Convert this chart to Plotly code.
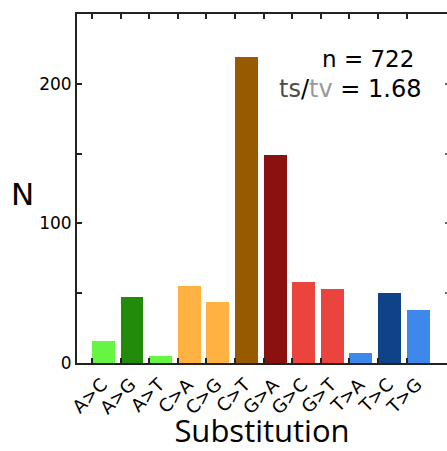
import plotly.graph_objects as go

categories = ["A>C", "A>G", "A>T", "C>A", "C>G", "C>T",
              "G>A", "G>C", "G>T", "T>A", "T>C", "T>G"]
counts = [16, 47, 5, 55, 44, 219, 149, 58, 53, 7, 50, 38]
colors = ["#66f542", "#228b0a", "#66f542", "#ffb142", "#ffb142", "#975a00",
          "#8b1010", "#eb433d", "#eb433d", "#3f88eb", "#0e438a", "#3f88eb"]
y_ticks = [0, 100, 200]
n_total = 722
ts_tv = 1.68

positions = list(range(len(categories)))

fig = go.Figure()
fig.add_trace(go.Bar(
    x=positions, y=counts, marker=dict(color=colors, line=dict(width=0)),
    width=0.8, offset=0, showlegend=False,
))
fig.add_trace(go.Scatter(x=[0], y=[0], xaxis="x2", yaxis="y2", mode="markers",
                         marker=dict(opacity=0), showlegend=False, hoverinfo="skip"))

axis_color = "#222222"
pw, ph = 447 - 77, 451 - 14 - 88
def px(xp):
    return (xp - 77) / pw
def py(yp):
    return (451 - 88 - yp) / ph

xrange_ = [-0.524, 12.41]
fig.update_layout(
    width=447, height=451,
    margin=dict(l=77, r=0, t=14, b=88),
    plot_bgcolor="white", paper_bgcolor="white",
    bargap=0,
    xaxis=dict(
        range=xrange_, tickmode="array", tickvals=positions, ticktext=categories,
        tickangle=-45, ticks="inside", ticklen=5, tickwidth=2, tickcolor=axis_color,
        showline=True, linecolor=axis_color, linewidth=2, mirror=True,
        showgrid=False, zeroline=False,
        tickfont=dict(family="DejaVu Sans", size=18, color="black"),
        ticklabelshift=10, ticklabelstandoff=2,
        title=dict(text="Substitution", font=dict(family="Open Sans", size=31, color="black"),
                   standoff=8),
    ),
    xaxis2=dict(
        overlaying="x", side="top", range=xrange_, matches="x",
        tickmode="array", tickvals=positions, ticks="inside", ticklen=5, tickwidth=2,
        tickcolor=axis_color, showticklabels=False, showline=False, showgrid=False, zeroline=False,
    ),
    yaxis=dict(
        range=[0, 250], tickmode="array", tickvals=y_ticks,
        ticks="inside", ticklen=5, tickwidth=2, tickcolor=axis_color,
        showline=True, linecolor=axis_color, linewidth=2, mirror=False,
        showgrid=False, zeroline=False,
        tickfont=dict(family="DejaVu Sans", size=17, color="black"),
        minor=dict(dtick=50, tick0=0, ticks="inside", ticklen=5, tickwidth=2,
                   tickcolor=axis_color, showgrid=False),
    ),
    yaxis2=dict(
        overlaying="y", side="right", range=[0, 250], matches="y",
        tickmode="linear", tick0=0, dtick=50, ticks="inside", ticklen=2, tickwidth=2,
        tickcolor="#666666", showticklabels=False, showline=False, showgrid=False, zeroline=False,
    ),
    annotations=[
        dict(text="N", xref="paper", yref="paper", x=px(22), y=py(194),
             xanchor="center", yanchor="middle", showarrow=False,
             font=dict(family="DejaVu Sans", size=31, color="black")),
        dict(text=f"n = {n_total}", xref="paper", yref="paper", x=px(416), y=py(59),
             xanchor="right", yanchor="middle", showarrow=False,
             font=dict(family="DejaVu Sans", size=23, color="black")),
        dict(text=f"<span style='color:#4d4d4d'>ts</span>/<span style='color:#999999'>tv</span> = {ts_tv:.2f}",
             xref="paper", yref="paper", x=px(423), y=py(89),
             xanchor="right", yanchor="middle", showarrow=False,
             font=dict(family="DejaVu Sans", size=24, color="black")),
    ],
)

fig.write_html("out.html")
